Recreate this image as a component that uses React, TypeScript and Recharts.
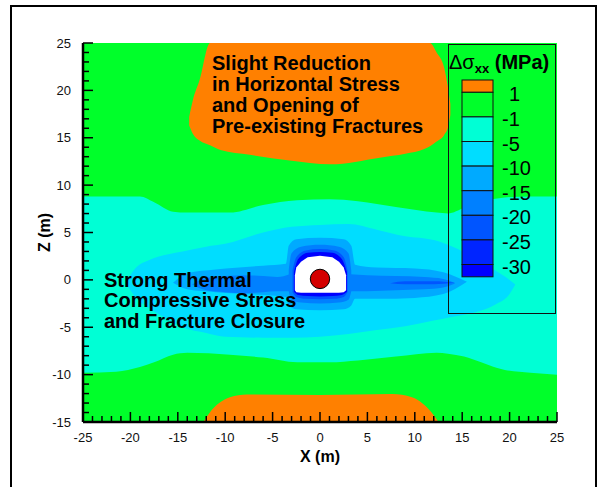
import React from 'react';
import { ComposedChart, Area, Scatter, XAxis, YAxis, Legend, Label } from 'recharts';

const FONT = '"Liberation Sans", Arial, Helvetica, sans-serif';

// axis ticks (m)
const xTicks = Array.from({ length: 51 }, (_, i) => i - 25);
const zTicks = Array.from({ length: 41 }, (_, i) => i - 15);
const xMajor = [-25, -20, -15, -10, -5, 0, 5, 10, 15, 20, 25];
const zMajor = [-15, -10, -5, 0, 5, 10, 15, 20, 25];

// legend levels (MPa)
const levelLabels = ['1', '-1', '-5', '-10', '-15', '-20', '-25', '-30'];
const levelColors = ['#FF8000', '#00FF2A', '#00FFD5', '#00DDFF', '#00AAFF', '#0080FF', '#0055FF', '#0025FF', '#0000FF'];

// contour band outlines: x (m), lower z (m), upper z (m)
const greenX = [-25, 25];
const greenLo = [-15, -15];
const greenHi = [25, 25];

const orangeTopX = [-13.8, -13.4, -12.7, -11.6, -10.5, -7.4, -3.2, 1.1, 6.3, 9, 11, 11.6, 12.3, 13.1, 13.5, 13.75];
const orangeTopLo = [16.3, 15.4, 14.7, 14.2, 13.7, 13.2, 12.6, 12.2, 12.9, 13.3, 13.8, 14.1, 14.6, 15.3, 16.1, 17.4];
const orangeTopHi = [17.2, 19.0, 21.1, 25, 25, 25, 25, 25, 25, 25, 25, 25, 24.0, 22.4, 20.3, 18.6];

const orangeBotX = [-12.3, -11.7, -9.5, -7.7, 0, 7.6, 9.7, 12, 12.5];
const orangeBotLo = [-15, -15, -15, -15, -15, -15, -15, -15, -15];
const orangeBotHi = [-15, -14.1, -12.4, -12.1, -12.15, -12.05, -12.4, -14.3, -15];

const cyanX = [-25, -21.5, -19, -17.5, -15.5, -14, -9.5, -6, -2.4, 1, 4, 8, 12.3, 13.5, 15.2, 17, 18.7, 19.5, 22.2, 25];
const cyanLo = [-9.8, -9.7, -9.2, -8.7, -7.9, -7.7, -7.9, -8.2, -8.7, -8.7, -8.5, -8.1, -7.7, -7.8, -8.1, -8.7, -9.3, -9.5, -9.8, -10];
const cyanHi = [8.8, 8.8, 8.8, 8.2, 7.2, 7.1, 7.1, 7.9, 8.4, 8.5, 8.3, 7.7, 7.1, 7.0, 7.6, 8.3, 8.6, 8.7, 8.8, 8.8];

const lightX = [-20.5, -19.5, -18, -16, -14.5, -12, -10, -6, -3, 0, 3, 6, 9, 12, 14, 16.5, 18.5, 20, 20.6];
const lightLo = [-0.3, -1.8, -3.0, -4.2, -5.0, -5.6, -6.0, -6.1, -6.1, -6.0, -5.7, -5.3, -4.9, -4.3, -3.9, -3.4, -2.6, -1.5, -0.5];
const lightHi = [-0.3, 1.2, 2.1, 2.7, 3.0, 3.5, 3.8, 5.0, 5.6, 5.8, 5.9, 5.3, 4.6, 4.2, 3.5, 2.2, 1.0, 0.0, -0.5];

const mediumX = [-15.5, -14, -11, -6, -3.6, -3.3, -2.5, 0, 2.5, 3.3, 3.7, 6, 10, 13, 15.5];
const mediumLo = [-0.3, -1.0, -1.3, -1.6, -1.8, -2.7, -3.1, -3.2, -3.1, -2.7, -2.0, -2.0, -1.9, -1.5, -0.2];
const mediumHi = [-0.3, 0.7, 1.1, 1.5, 1.7, 3.6, 4.3, 4.45, 4.3, 3.6, 1.6, 1.3, 1.2, 0.8, -0.2];

const coreLeftX = [-13.5, -12, -10, -8, -6, -4.5, -3.2];
const coreLeftLo = [-0.5, -1.1, -1.3, -1.4, -1.3, -1.2, -1.2];
const coreLeftHi = [-0.5, 0.2, 0.4, 0.5, 0.4, 0.3, 0.6];

const coreRightX = [3.2, 5, 8, 11, 13, 14.2];
const coreRightLo = [-1.2, -1.2, -1.1, -1.0, -0.8, -0.4];
const coreRightHi = [0.6, 0.5, 0.4, 0.3, 0.1, -0.3];

const thinRightX = [7.4, 9, 12, 14.2];
const thinRightLo = [-0.35, -0.45, -0.45, -0.3];
const thinRightHi = [-0.35, -0.15, -0.15, -0.3];

const ring1X = [-3.3, -3.0, -2, 0, 2, 3.0, 3.3];
const ring1Lo = [-1.2, -2.1, -2.4, -2.5, -2.4, -2.1, -1.2];
const ring1Hi = [1.0, 2.8, 3.5, 3.7, 3.5, 2.8, 1.0];

const ring2X = [-2.9, -2.5, -1.5, 0, 1.5, 2.5, 2.9];
const ring2Lo = [-1.3, -1.8, -2.0, -2.05, -2.0, -1.8, -1.3];
const ring2Hi = [1.0, 2.4, 3.1, 3.25, 3.1, 2.4, 1.0];

const ring3X = [-2.75, -2.3, -1.3, 0, 1.3, 2.3, 2.85];
const ring3Lo = [-1.25, -1.6, -1.7, -1.75, -1.7, -1.6, -1.25];
const ring3Hi = [0.8, 2.2, 2.85, 2.95, 2.85, 2.2, 0.8];

const whiteX = [-2.65, -2.5, -2.0, -1.3, 0, 1.3, 2.0, 2.5, 2.75];
const whiteLo = [-1.1, -1.3, -1.35, -1.35, -1.35, -1.35, -1.35, -1.3, -1.1];
const whiteHi = [0.5, 1.3, 1.9, 2.4, 2.55, 2.4, 1.9, 1.3, 0.5];

const borehole = [{ x: 0, z: 0.1 }];

type Band = { key: string; color: string; xs: number[]; lo: number[]; hi: number[]; curve: 'monotone' | 'linear' };

const bands: Band[] = [
  { key: 'green', color: levelColors[1], xs: greenX, lo: greenLo, hi: greenHi, curve: 'linear' },
  { key: 'orangeTop', color: levelColors[0], xs: orangeTopX, lo: orangeTopLo, hi: orangeTopHi, curve: 'monotone' },
  { key: 'orangeBot', color: levelColors[0], xs: orangeBotX, lo: orangeBotLo, hi: orangeBotHi, curve: 'monotone' },
  { key: 'cyan', color: levelColors[2], xs: cyanX, lo: cyanLo, hi: cyanHi, curve: 'monotone' },
  { key: 'light', color: levelColors[3], xs: lightX, lo: lightLo, hi: lightHi, curve: 'monotone' },
  { key: 'medium', color: levelColors[4], xs: mediumX, lo: mediumLo, hi: mediumHi, curve: 'monotone' },
  { key: 'coreLeft', color: levelColors[5], xs: coreLeftX, lo: coreLeftLo, hi: coreLeftHi, curve: 'monotone' },
  { key: 'coreRight', color: levelColors[5], xs: coreRightX, lo: coreRightLo, hi: coreRightHi, curve: 'monotone' },
  { key: 'thinRight', color: levelColors[6], xs: thinRightX, lo: thinRightLo, hi: thinRightHi, curve: 'monotone' },
  { key: 'ring1', color: levelColors[5], xs: ring1X, lo: ring1Lo, hi: ring1Hi, curve: 'monotone' },
  { key: 'ring2', color: levelColors[6], xs: ring2X, lo: ring2Lo, hi: ring2Hi, curve: 'monotone' },
  { key: 'ring3', color: levelColors[8], xs: ring3X, lo: ring3Lo, hi: ring3Hi, curve: 'monotone' },
  { key: 'white', color: '#FFFFFF', xs: whiteX, lo: whiteLo, hi: whiteHi, curve: 'linear' },
];

const allX = Array.from(new Set(bands.flatMap((b) => b.xs))).sort((a, b) => a - b);
const table = allX.map((x) => {
  const row: Record<string, any> = { x };
  bands.forEach((b) => {
    const i = b.xs.indexOf(x);
    row[b.key] = i >= 0 ? [b.lo[i], b.hi[i]] : [null, null];
  });
  return row;
});

const PLOT_BOTTOM = 422;
const PLOT_LEFT = 83;

const XTick = (props: any) => {
  const { x, payload } = props;
  const major = xMajor.includes(payload.value);
  return (
    <g>
      <line x1={x} x2={x} y1={PLOT_BOTTOM} y2={PLOT_BOTTOM - (major ? 10 : 6)} stroke="#000" strokeWidth={1.5} />
      {major && (
        <text x={x} y={PLOT_BOTTOM + 20} textAnchor="middle" fontSize={13} fontFamily={FONT} fill="#111">
          {payload.value}
        </text>
      )}
    </g>
  );
};

const ZTick = (props: any) => {
  const { y, payload } = props;
  const major = zMajor.includes(payload.value);
  return (
    <g>
      <line x1={PLOT_LEFT} x2={PLOT_LEFT + (major ? 10 : 6)} y1={y} y2={y} stroke="#000" strokeWidth={1.5} />
      {major && (
        <text x={PLOT_LEFT - 12} y={y + 4.6} textAnchor="end" fontSize={13} fontFamily={FONT} fill="#111">
          {payload.value}
        </text>
      )}
    </g>
  );
};

const LegendBox = () => {
  const sx = 14;
  const sw = 31;
  const top = 36;
  const full = 24.6;
  const half = full / 2;
  const ys: number[] = [top];
  levelColors.forEach((_, i) => {
    const h = i === 0 || i === levelColors.length - 1 ? half : full;
    ys.push(ys[i] + h);
  });
  return (
    <svg width={108} height={270} style={{ display: 'block', overflow: 'visible' }}>
      <rect x={0.5} y={0.5} width={107} height={269} fill="none" stroke="#111" strokeWidth={1} />
      <text x={1} y={25} fontFamily={FONT} fill="#000">
        <tspan fontSize={20}>Δσ</tspan>
        <tspan fontSize={13} fontWeight="bold" dy={4}>xx</tspan>
        <tspan fontSize={20} fontWeight="bold" dy={-4}> (MPa)</tspan>
      </text>
      {levelColors.map((c, i) => (
        <rect key={c + i} x={sx} y={ys[i]} width={sw} height={ys[i + 1] - ys[i]} fill={c} stroke="#111" strokeWidth={1} />
      ))}
      {levelLabels.map((l, i) => (
        <text key={l} x={l.startsWith('-') ? 54 : 61} y={ys[i + 1] + 9} fontSize={20} fontFamily={FONT} fill="#000">
          {l}
        </text>
      ))}
    </svg>
  );
};

const topNote = ['Slight Reduction', 'in Horizontal Stress', 'and Opening of', 'Pre-existing Fractures'];
const bottomNote = ['Strong Thermal', 'Compressive Stress', 'and Fracture Closure'];

const Notes = () => (
  <svg
    width={597}
    height={487}
    style={{ position: 'absolute', left: 0, top: 0, pointerEvents: 'none' }}
  >
    <g fontFamily={FONT} fontWeight="bold" fontSize={20} fill="#000">
      {topNote.map((t, i) => (
        <text key={t} x={212} y={70.3 + i * 20.8}>{t}</text>
      ))}
      {bottomNote.map((t, i) => (
        <text key={t} x={104} y={286.6 + i * 20.5}>{t}</text>
      ))}
    </g>
  </svg>
);

export default function App() {
  return (
    <div style={{ position: 'absolute', left: 0, top: 0, width: 597, height: 487, overflow: 'hidden', background: '#fff' }}>
      <div
        style={{
          position: 'absolute',
          left: 10,
          top: 5,
          width: 587,
          height: 540,
          border: '2px solid #000',
          boxSizing: 'border-box',
        }}
      />
      <div style={{ position: 'absolute', left: 0, top: 0 }}>
        <ComposedChart width={597} height={487} data={table} margin={{ top: 43, right: 40, bottom: 15, left: 0 }}>
          {bands.map((b) => (
            <Area
              key={b.key}
              dataKey={b.key}
              type={b.curve}
              fill={b.color}
              fillOpacity={1}
              stroke="none"
              connectNulls
              dot={false}
              activeDot={false}
              isAnimationActive={false}
            />
          ))}
          <Scatter
            data={borehole}
            dataKey="z"
            isAnimationActive={false}
            shape={(p: any) => <circle cx={p.cx} cy={p.cy} r={9.7} fill="#D40000" stroke="#000" strokeWidth={1} />}
          />
          <XAxis
            dataKey="x"
            type="number"
            domain={[-25, 25]}
            ticks={xTicks}
            interval={0}
            allowDataOverflow
            height={50}
            tickSize={0}
            tickMargin={0}
            tickLine={false}
            axisLine={{ stroke: '#000', strokeWidth: 2.5 }}
            tick={<XTick />}
          >
            <Label value="X (m)" position="insideBottom" offset={10} style={{ fontWeight: 'bold', fontSize: 16, fontFamily: FONT, fill: '#000' }} />
          </XAxis>
          <YAxis
            type="number"
            domain={[-15, 25]}
            ticks={zTicks}
            interval={0}
            allowDataOverflow
            width={83}
            tickSize={0}
            tickMargin={0}
            tickLine={false}
            axisLine={{ stroke: '#000', strokeWidth: 2.5 }}
            tick={<ZTick />}
          >
            <Label
              content={() => (
                <text x={44.5} y={232.5} transform="rotate(-90 44.5 232.5)" textAnchor="middle" dominantBaseline="central" fontWeight="bold" fontSize={16} fontFamily={FONT} fill="#000">
                  Z (m)
                </text>
              )}
            />
          </YAxis>
          <Legend
            layout="vertical"
            align="center"
            verticalAlign="middle"
            wrapperStyle={{ left: 448, top: 44, width: 108, height: 270 }}
            content={() => <LegendBox />}
          />
        </ComposedChart>
      </div>
      <Notes />
    </div>
  );
}
